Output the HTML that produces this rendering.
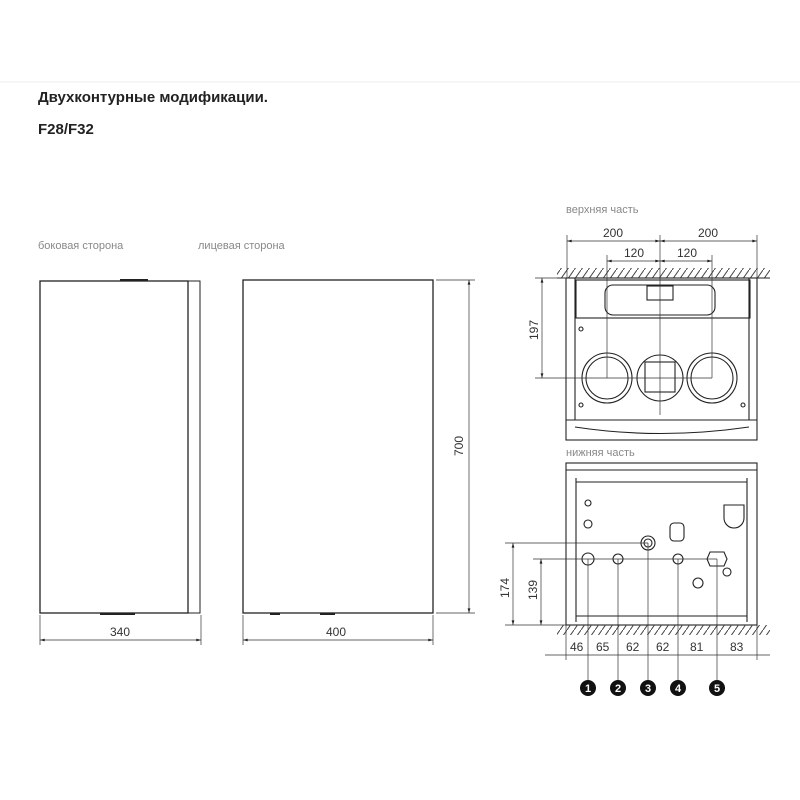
<!DOCTYPE html>
<html><head><meta charset="utf-8"><style>
html,body{margin:0;padding:0;background:#fff;width:800px;height:800px;overflow:hidden}
svg{display:block}
text{font-family:"Liberation Sans",sans-serif}
</style></head><body>
<svg width="800" height="800" viewBox="0 0 800 800" xmlns="http://www.w3.org/2000/svg">
<defs>
<marker id="a" viewBox="0 0 10 6" refX="10" refY="3" markerWidth="8" markerHeight="4" orient="auto-start-reverse"><path d="M0,0 L10,3 L0,6 z" fill="#222"/></marker>
<pattern id="h" width="7" height="10" patternUnits="userSpaceOnUse"><line x1="0" y1="10" x2="7" y2="0" stroke="#444" stroke-width="1"/></pattern>
</defs>
<line x1="0" y1="82" x2="800" y2="82" stroke="#eee"/>
<text x="38" y="102" font-size="15" font-weight="bold" fill="#222">Двухконтурные модификации.</text>
<text x="38" y="134" font-size="15" font-weight="bold" fill="#222">F28/F32</text>
<g font-size="11" fill="#888">
<text x="38" y="249">боковая сторона</text>
<text x="198" y="249">лицевая сторона</text>
<text x="566" y="213">верхняя часть</text>
<text x="566" y="456">нижняя часть</text>
</g>
<g stroke="#222" fill="none" stroke-width="1.3">
<rect x="40" y="281" width="148" height="332"/>
<rect x="188" y="281" width="12" height="332" stroke-width="1"/>
<line x1="120" y1="280" x2="148" y2="280" stroke-width="2"/>
<rect x="243" y="280" width="190" height="333"/>
<line x1="100" y1="614" x2="135" y2="614" stroke-width="2"/>
<line x1="270" y1="614" x2="280" y2="614" stroke-width="2"/>
<line x1="320" y1="614" x2="335" y2="614" stroke-width="2"/>
</g>
<g stroke="#333" stroke-width="0.7" fill="none">
<line x1="40" y1="615" x2="40" y2="645"/><line x1="201" y1="615" x2="201" y2="645"/>
<line x1="40" y1="640" x2="201" y2="640" marker-start="url(#a)" marker-end="url(#a)"/>
<line x1="243" y1="615" x2="243" y2="645"/><line x1="433" y1="615" x2="433" y2="645"/>
<line x1="243" y1="640" x2="433" y2="640" marker-start="url(#a)" marker-end="url(#a)"/>
<line x1="436" y1="280" x2="475" y2="280"/><line x1="436" y1="613" x2="475" y2="613"/>
<line x1="469" y1="280" x2="469" y2="613" marker-start="url(#a)" marker-end="url(#a)"/>
</g>
<g font-size="12" fill="#333" font-family="Liberation Sans Narrow, Liberation Sans, sans-serif">
<text x="110" y="636">340</text>
<text x="326" y="636">400</text>
<text transform="translate(463,456) rotate(-90)">700</text>
</g>

<!-- top view -->
<rect x="557" y="268" width="213" height="10" fill="url(#h)"/>
<line x1="557" y1="278" x2="770" y2="278" stroke="#222"/>
<g stroke="#222" fill="none" stroke-width="1.1">
<rect x="566" y="278" width="191" height="162"/>
<line x1="575" y1="278" x2="575" y2="420"/><line x1="749" y1="278" x2="749" y2="420"/>
<rect x="576" y="280" width="174" height="38"/>
<path d="M566 420 L757 420 M575 427 Q660 440 749 427"/>
<rect x="605" y="285" width="110" height="30" rx="8"/>
<rect x="647" y="286" width="26" height="14"/>
<circle cx="607" cy="378" r="25"/><circle cx="607" cy="378" r="21"/>
<circle cx="660" cy="378" r="23"/>
<rect x="645" y="362" width="30" height="30"/>
<circle cx="712" cy="378" r="25"/><circle cx="712" cy="378" r="21"/>
<circle cx="581" cy="329" r="2"/><circle cx="581" cy="405" r="2"/><circle cx="743" cy="405" r="2"/>
</g>
<g stroke="#333" stroke-width="0.7" fill="none">
<line x1="567" y1="235" x2="567" y2="278"/><line x1="757" y1="235" x2="757" y2="278"/>
<line x1="660" y1="235" x2="660" y2="415"/>
<line x1="607" y1="255" x2="607" y2="378"/><line x1="712" y1="255" x2="712" y2="378"/>
<line x1="567" y1="241" x2="660" y2="241" marker-start="url(#a)" marker-end="url(#a)"/>
<line x1="660" y1="241" x2="757" y2="241" marker-start="url(#a)" marker-end="url(#a)"/>
<line x1="607" y1="261" x2="660" y2="261" marker-start="url(#a)" marker-end="url(#a)"/>
<line x1="660" y1="261" x2="712" y2="261" marker-start="url(#a)" marker-end="url(#a)"/>
<line x1="535" y1="278" x2="566" y2="278"/><line x1="535" y1="378" x2="712" y2="378"/>
<line x1="542" y1="278" x2="542" y2="378" marker-start="url(#a)" marker-end="url(#a)"/>
</g>
<g font-size="12" fill="#333">
<text x="603" y="237">200</text><text x="698" y="237">200</text>
<text x="624" y="257">120</text><text x="677" y="257">120</text>
<text transform="translate(538,340) rotate(-90)">197</text>
</g>

<!-- bottom view -->
<g stroke="#222" fill="none" stroke-width="1.1">
<rect x="566" y="463" width="191" height="162"/>
<line x1="566" y1="470" x2="757" y2="470"/>
<path d="M576 478 L576 622 M747 478 L747 622 M576 482 L747 482 M576 616 L747 616"/>
<circle cx="588" cy="503" r="3"/><circle cx="588" cy="524" r="4"/>
<circle cx="648" cy="543" r="7"/><circle cx="648" cy="543" r="4"/>
<circle cx="588" cy="559" r="6"/><circle cx="618" cy="559" r="5"/>
<circle cx="678" cy="559" r="5"/>
<path d="M710 552 L724 552 L727 559 L724 566 L710 566 L707 559 z"/>
<circle cx="727" cy="572" r="4"/><circle cx="698" cy="583" r="5"/>
<rect x="670" y="523" width="14" height="18" rx="4"/>
<path d="M724 505 L744 505 L744 518 A10 10 0 0 1 724 518 z"/>
</g>
<rect x="557" y="625" width="213" height="10" fill="url(#h)"/>
<g stroke="#333" stroke-width="0.7" fill="none">
<line x1="505" y1="543" x2="648" y2="543"/><line x1="533" y1="559" x2="717" y2="559"/>
<line x1="505" y1="625" x2="566" y2="625"/>
<line x1="513" y1="543" x2="513" y2="625" marker-start="url(#a)" marker-end="url(#a)"/>
<line x1="541" y1="559" x2="541" y2="625" marker-start="url(#a)" marker-end="url(#a)"/>
<line x1="545" y1="655" x2="770" y2="655"/>
<line x1="566" y1="625" x2="566" y2="660"/><line x1="757" y1="625" x2="757" y2="660"/>
<line x1="588" y1="559" x2="588" y2="680"/><line x1="618" y1="559" x2="618" y2="680"/>
<line x1="648" y1="543" x2="648" y2="680"/><line x1="678" y1="559" x2="678" y2="680"/>
<line x1="717" y1="559" x2="717" y2="680"/>
</g>
<g font-size="12" fill="#333">
<text x="570" y="651">46</text><text x="596" y="651">65</text><text x="626" y="651">62</text>
<text x="656" y="651">62</text><text x="690" y="651">81</text><text x="730" y="651">83</text>
<text transform="translate(509,598) rotate(-90)">174</text>
<text transform="translate(537,600) rotate(-90)">139</text>
</g>
<g font-size="11" font-weight="bold" fill="#fff" text-anchor="middle">
<circle cx="588" cy="688" r="8" fill="#111"/><text x="588" y="692">1</text>
<circle cx="618" cy="688" r="8" fill="#111"/><text x="618" y="692">2</text>
<circle cx="648" cy="688" r="8" fill="#111"/><text x="648" y="692">3</text>
<circle cx="678" cy="688" r="8" fill="#111"/><text x="678" y="692">4</text>
<circle cx="717" cy="688" r="8" fill="#111"/><text x="717" y="692">5</text>
</g>
</svg>
</body></html>
